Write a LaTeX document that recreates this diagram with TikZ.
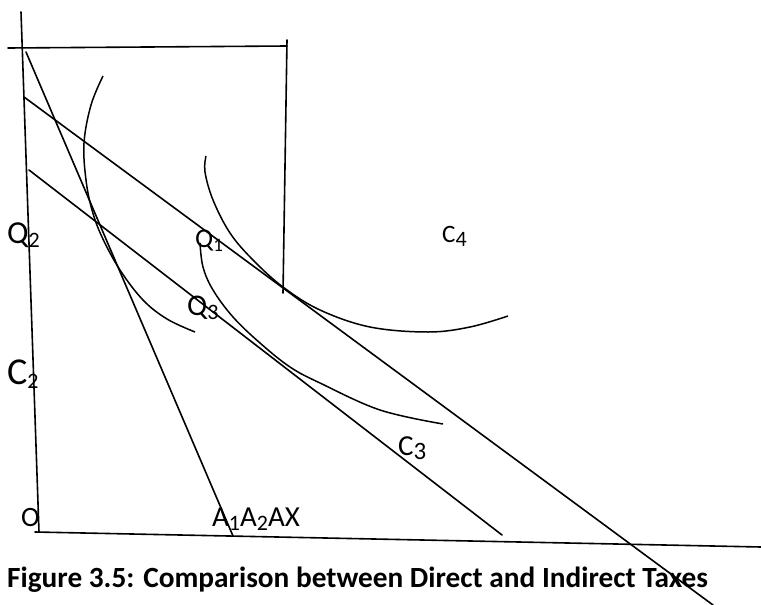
\documentclass[tikz,border=0pt]{standalone}
\usepackage{fontspec}
\setmainfont{Carlito}
\newcommand\sbs[2][22]{\raisebox{-4pt}{\fontsize{#1}{#1}\selectfont #2}}
\begin{document}
\begin{tikzpicture}[x=1pt,y=-1pt,
  ln/.style={line width=1.6pt,line cap=round},
  cv/.style={line width=1.5pt},
  lbl/.style={anchor=base west,inner sep=0pt,font=\fontsize{#1}{#1}\selectfont},
  lbl/.default=29,
  captxt/.style={anchor=base west,inner sep=0pt,font=\fontsize{29.3}{32}\selectfont\bfseries}]
\useasboundingbox (0,0) rectangle (761,605);
% axes
\coordinate (yt) at (21,12);
\coordinate (o) at (39,532);
\coordinate (xs) at (35,532);
\coordinate (xe) at (761,547);
\draw[ln] (yt) -- (o);
\draw[ln] (xs) -- (xe);
% top box lines
\coordinate (tl) at (8,48);
\coordinate (tr) at (287,46);
\coordinate (vt) at (287,40);
\coordinate (vb) at (283,293);
\draw[ln] (tl) -- (tr);
\draw[ln] (vt) -- (vb);
% budget lines
\coordinate (s1) at (26,52);
\coordinate (s2) at (233,536);
\draw[ln] (s1) -- (s2);
\coordinate (b1) at (24,97);
\coordinate (b2) at (713,605);
\draw[ln] (b1) -- (b2);
\coordinate (m1) at (29,170);
\coordinate (m2) at (502,535);
\draw[ln] (m1) -- (m2);
% indifference curves
\draw[cv] plot[smooth,tension=0.6] coordinates {(103,76) (91,105) (84,143) (86,180) (92,210) (102,237) (120,270) (143,300) (167,319) (195,332)};
\draw[cv] plot[smooth,tension=0.6] coordinates {(206,156) (205,172) (213,200) (230,233) (253,260) (283,287) (320,310) (370,327) (428,332) (470,327) (508,316)};
\draw[cv] plot[smooth,tension=0.6] coordinates {(200,243) (203,267) (213,290) (233,317) (260,343) (290,367) (320,383) (380,410) (443,424)};
% labels
\node[lbl=32] (q2) at (7,243) {Q\sbs{2}};
\node[lbl=27] (q1) at (195,247) {Q\sbs[19]{1}};
\node[lbl=30] (q3) at (187,315) {Q\sbs{3}};
\node[lbl=38] (c2) at (7,384) {C\sbs{2}};
\node[lbl=25] (c4) at (442,242) {C\sbs{4}};
\node[lbl=29] (c3) at (398,455) {C\sbs[25]{3}};
\node[lbl=28] (oo) at (21,526) {O};
\node[lbl=29] (ax) at (212,526) {A\sbs{1}A\sbs{2}AX};
\node[captxt] (fig) at (7,587) {Figure 3.5: Comparison between Direct and Indirect Taxes};
\end{tikzpicture}
\end{document}
